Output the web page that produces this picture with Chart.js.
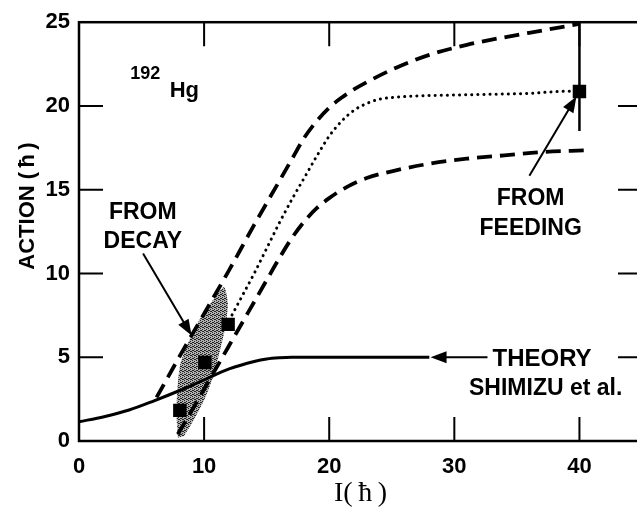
<!DOCTYPE html>
<html>
<head>
<meta charset="utf-8">
<script src="https://cdn.jsdelivr.net/npm/chart.js@4.4.1/dist/chart.umd.min.js"></script>
<style>
  html, body { margin: 0; padding: 0; background: #fff; overflow: hidden; }
  #wrap { width: 660px; height: 508px; }
</style>
</head>
<body>
<div id="wrap"><canvas id="actionChart"></canvas></div>
<script>
// Tick positions
const xTickValues = [0, 10, 20, 30, 40];
const yTickValues = [0, 5, 10, 15, 20, 25];
const xInnerTicks = [10, 20, 30, 40];
const yInnerTicks = [5, 10, 15, 20];

// Theory (Shimizu et al.)
const theoryI      = [0, 2, 4, 6, 8, 10, 12, 14, 15, 16, 17, 20, 24, 28];
const theoryAction = [1.15, 1.45, 1.85, 2.4, 3.0, 3.65, 4.3, 4.75, 4.9, 4.97, 5.0, 5.0, 5.0, 5.0];

// Upper and lower limits (dashed)
const upperI      = [6.2, 8, 10, 12, 14, 16, 17, 18, 19, 20, 21, 22, 23.2, 25.4, 28, 31, 34, 37, 40];
const upperAction = [2.6, 5.0, 7.6, 10.2, 12.9, 15.5, 16.8, 18.1, 19.1, 19.9, 20.5, 21.0, 21.5, 22.3, 23.05, 23.65, 24.1, 24.5, 24.9];
const lowerI      = [7.9, 9, 10, 11, 12, 13, 14, 15, 16, 17, 18, 19, 20, 21.5, 23, 25, 28, 31, 34, 37, 40.5];
const lowerAction = [0.4, 1.8, 3.1, 4.4, 5.7, 7.0, 8.3, 9.6, 10.9, 12.1, 13.1, 13.9, 14.5, 15.2, 15.7, 16.1, 16.55, 16.85, 17.05, 17.25, 17.35];

// Best estimate (dotted)
const bestI      = [12.0, 13, 14, 15, 16, 17, 18, 19, 20, 21, 22, 23, 24, 25, 27, 30, 33, 36, 38, 40];
const bestAction = [7.2, 8.6, 10.0, 11.5, 13.0, 14.4, 15.7, 17.0, 18.2, 19.1, 19.75, 20.15, 20.4, 20.5, 20.6, 20.65, 20.7, 20.75, 20.85, 20.9];

// Measured points
const decayI      = [8.06, 10.06, 11.92];
const decayAction = [1.83, 4.69, 6.96];
const feedingI      = [40];
const feedingAction = [20.86];
const feedingLow  = 18.5;
const feedingHigh = 25;

// Region allowed by the decay data (shaded)
const bandI      = [7.9, 7.8, 7.85, 8.1, 8.8, 9.6, 10.6, 11.6, 11.9, 11.7, 11.3, 10.8, 10.1, 9.2, 8.4];
const bandAction = [0.2, 1.5, 3.0, 4.6, 6.0, 7.2, 8.3, 9.2, 8.2, 6.8, 5.5, 4.0, 2.6, 1.3, 0.3];

const pts = (xs, ys) => xs.map((x, i) => ({ x: x, y: ys[i] }));

// Labels and arrows, placed in data units
const notes = [
    { text: "192", x: 4.1, y: 21.63, size: 18, align: "left" },
    { text: "Hg", x: 7.25, y: 20.55, size: 22, align: "left" },
    { text: "FROM", x: 5.1, y: 13.24, size: 23, align: "center" },
    { text: "DECAY", x: 5.1, y: 11.52, size: 23, align: "center" },
    { text: "FROM", x: 36.1, y: 14.07, size: 23, align: "center" },
    { text: "FEEDING", x: 36.1, y: 12.29, size: 23, align: "center" },
    { text: "THEORY", x: 33.05, y: 4.49, size: 24, align: "left" },
    { text: "SHIMIZU et al.", x: 37.3, y: 2.72, size: 23, align: "center" }
];
const arrows = [
    { from: [5.12, 11.19], to: [9.0, 6.3] },
    { from: [36.0, 15.84], to: [39.76, 20.57] },
    { from: [32.65, 5.0], to: [28.1, 5.0] }
];

const SANS = "'Liberation Sans', Arial, Helvetica, sans-serif";

function stipple() {
    const c = document.createElement("canvas");
    c.width = 4; c.height = 4;
    const g = c.getContext("2d");
    g.fillStyle = "#b0b0b0";
    g.fillRect(0, 0, 4, 4);
    g.fillStyle = "#222";
    [[0, 0], [2, 1], [1, 2], [3, 3], [2, 3], [0, 2]].forEach(p => g.fillRect(p[0], p[1], 1, 1));
    return g.createPattern(c, "repeat");
}

// Frame, inward ticks, arrows and text labels
const overlay = {
    id: "overlay",
    afterDatasetsDraw(chart) {
        const ctx = chart.ctx;
        const { left, right, top, bottom } = chart.chartArea;
        const xs = chart.scales.x, ys = chart.scales.y;
        const tick = 24;

        ctx.save();
        ctx.strokeStyle = "#000";
        ctx.lineWidth = 2.5;
        ctx.strokeRect(left, top, right - left, bottom - top);

        ctx.lineWidth = 2;
        ctx.beginPath();
        xInnerTicks.forEach(v => {
            const px = xs.getPixelForValue(v);
            ctx.moveTo(px, bottom); ctx.lineTo(px, bottom - tick);
            ctx.moveTo(px, top); ctx.lineTo(px, top + tick);
        });
        yInnerTicks.forEach(v => {
            const py = ys.getPixelForValue(v);
            ctx.moveTo(left, py); ctx.lineTo(left + tick, py);
            ctx.moveTo(right, py); ctx.lineTo(right - tick, py);
        });
        ctx.stroke();

        // arrows
        arrows.forEach(a => {
            const x0 = xs.getPixelForValue(a.from[0]), y0 = ys.getPixelForValue(a.from[1]);
            const x1 = xs.getPixelForValue(a.to[0]), y1 = ys.getPixelForValue(a.to[1]);
            const ang = Math.atan2(y1 - y0, x1 - x0);
            const len = 16, half = 6;
            ctx.lineWidth = 2;
            ctx.beginPath();
            ctx.moveTo(x0, y0);
            ctx.lineTo(x1 - Math.cos(ang) * len * 0.8, y1 - Math.sin(ang) * len * 0.8);
            ctx.stroke();
            ctx.beginPath();
            ctx.moveTo(x1, y1);
            ctx.lineTo(x1 - Math.cos(ang) * len - Math.sin(ang) * half, y1 - Math.sin(ang) * len + Math.cos(ang) * half);
            ctx.lineTo(x1 - Math.cos(ang) * len + Math.sin(ang) * half, y1 - Math.sin(ang) * len - Math.cos(ang) * half);
            ctx.closePath();
            ctx.fillStyle = "#000";
            ctx.fill();
        });

        // text
        ctx.fillStyle = "#000";
        ctx.textBaseline = "alphabetic";
        notes.forEach(n => {
            ctx.font = "bold " + n.size + "px " + SANS;
            ctx.textAlign = n.align;
            ctx.fillText(n.text, xs.getPixelForValue(n.x), ys.getPixelForValue(n.y));
        });

        // y axis title
        ctx.translate(28, 206);
        ctx.rotate(-Math.PI / 2);
        ctx.font = "bold 22px " + SANS;
        ctx.textAlign = "center";
        ctx.textBaseline = "middle";
        ctx.fillText("ACTION (\u2009\u0127\u2009)", 0, 0);
        ctx.restore();
    }
};

const ctx = document.getElementById("actionChart").getContext("2d");
new Chart(ctx, {
    type: "line",
    data: {
        datasets: [
            {
                data: pts(decayI.concat(feedingI), decayAction.concat(feedingAction)),
                showLine: false,
                pointStyle: "rect",
                pointRadius: 9.5,
                pointBackgroundColor: "#000",
                pointBorderWidth: 0,
                order: 0
            },
            {
                data: pts([40, 40], [feedingLow, feedingHigh]),
                borderColor: "#000",
                borderWidth: 2.5,
                pointRadius: 0,
                order: 1
            },
            {
                data: pts(upperI, upperAction),
                borderColor: "#000",
                borderWidth: 3.8,
                borderDash: [15, 8],
                cubicInterpolationMode: "monotone",
                pointRadius: 0,
                order: 2
            },
            {
                data: pts(lowerI, lowerAction),
                borderColor: "#000",
                borderWidth: 3.8,
                borderDash: [15, 8],
                cubicInterpolationMode: "monotone",
                pointRadius: 0,
                order: 2
            },
            {
                data: pts(bestI, bestAction),
                borderColor: "#000",
                borderWidth: 3,
                borderDash: [0.1, 6],
                borderCapStyle: "round",
                cubicInterpolationMode: "monotone",
                pointRadius: 0,
                order: 2
            },
            {
                data: pts(theoryI, theoryAction),
                borderColor: "#000",
                borderWidth: 3,
                cubicInterpolationMode: "monotone",
                pointRadius: 0,
                order: 2
            },
            {
                data: pts(bandI, bandAction),
                borderWidth: 0,
                borderColor: "rgba(0,0,0,0)",
                backgroundColor: stipple(),
                fill: "shape",
                tension: 0.2,
                pointRadius: 0,
                order: 5
            }
        ]
    },
    options: {
        responsive: true,
        maintainAspectRatio: false,
        animation: false,
        layout: { padding: { left: 0, right: 18, top: 18, bottom: 0 } },
        plugins: {
            legend: { display: false },
            tooltip: { enabled: false }
        },
        scales: {
            x: {
                type: "linear",
                min: 0,
                max: 45,
                afterBuildTicks: s => { s.ticks = xTickValues.map(v => ({ value: v })); },
                afterFit: s => { s.height = 67; },
                grid: { display: false, drawTicks: false },
                border: { display: false },
                ticks: {
                    padding: 13,
                    color: "#000",
                    font: { family: SANS, size: 22, weight: "bold" },
                    maxRotation: 0
                },
                title: {
                    display: true,
                    text: "I(\u2009\u0127\u2009)",
                    color: "#000",
                    font: { family: "'Liberation Serif', 'Times New Roman', serif", size: 28, lineHeight: 1 },
                    padding: { top: 0, bottom: 0 }
                }
            },
            y: {
                min: 0,
                max: 25,
                afterBuildTicks: s => { s.ticks = yTickValues.map(v => ({ value: v })); },
                afterFit: s => { s.width = 79; },
                grid: { display: false, drawTicks: false },
                border: { display: false },
                ticks: {
                    padding: 9,
                    color: "#000",
                    font: { family: SANS, size: 22, weight: "bold" }
                }
            }
        }
    },
    plugins: [overlay]
});
</script>
</body>
</html>
